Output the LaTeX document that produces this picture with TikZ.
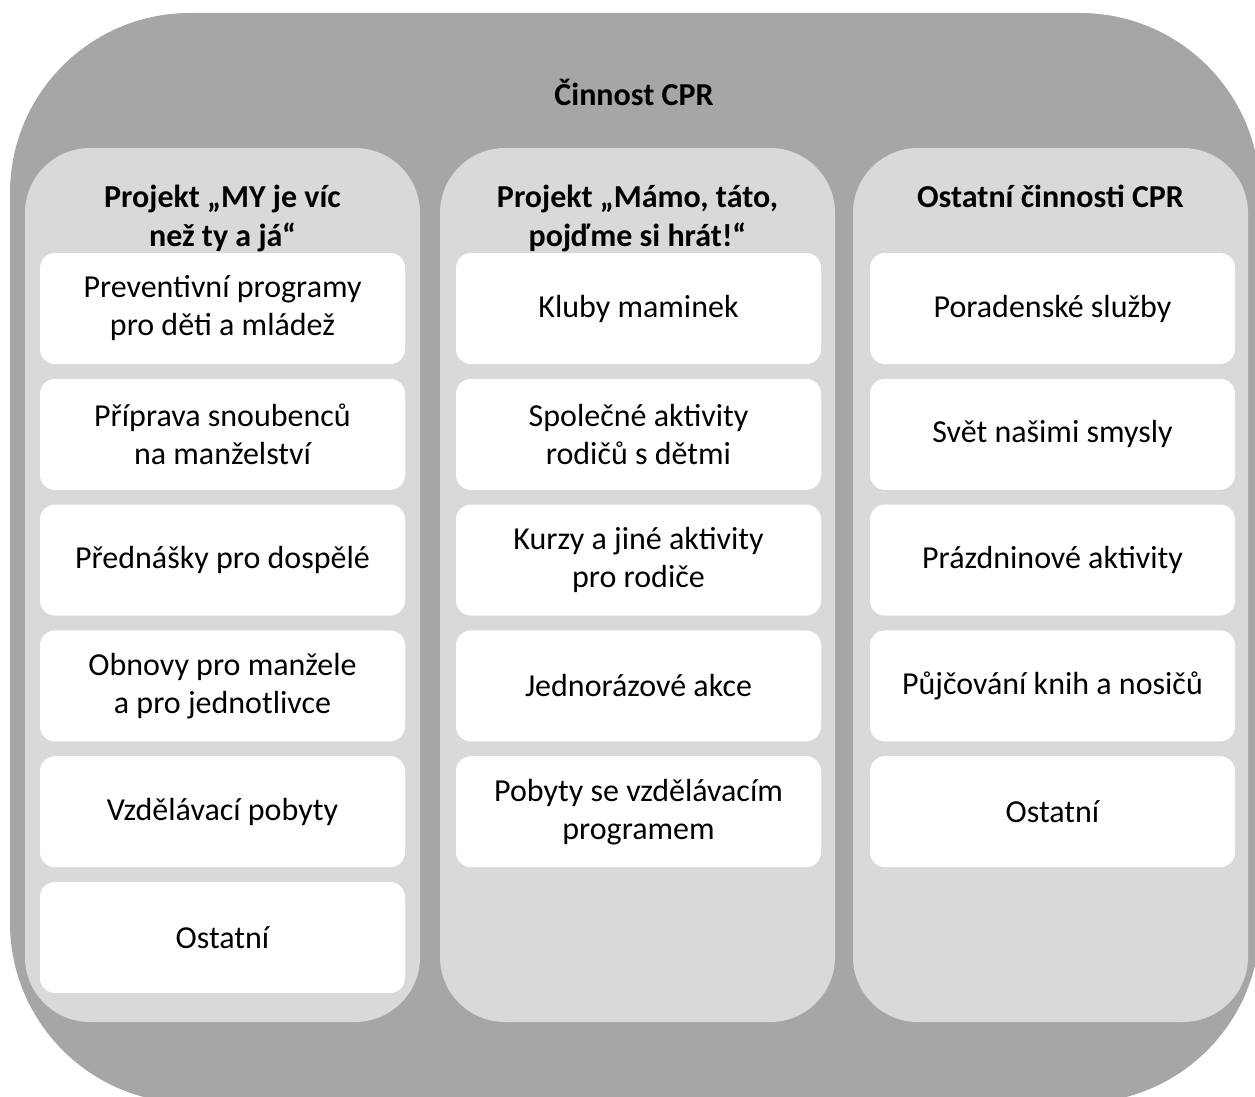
\documentclass[tikz,border=0pt]{standalone}
\usepackage{fontspec}
\setmainfont{Carlito}
\definecolor{outergray}{HTML}{A6A6A6}
\definecolor{panelgray}{HTML}{D9D9D9}
\tikzset{
  panel/.style={fill=panelgray, rounded corners=65pt, minimum width=395pt, minimum height=874pt, inner sep=0pt},
  itembox/.style={fill=white, rounded corners=15pt, minimum width=365pt, minimum height=111pt, inner sep=0pt, align=center, font=\fontsize{32}{38}\selectfont},
  coltitle/.style={anchor=north, inner sep=0pt, align=center, font=\fontsize{32}{39}\selectfont\bfseries},
}
\begin{document}
\begin{tikzpicture}[x=1pt,y=-1pt]
\useasboundingbox (0,0) rectangle (1255,1097);
\clip (0,0) rectangle (1255,1097);
% outer frame
\fill[outergray, rounded corners=180pt] (10,13) rectangle (1260,1103);
\node[anchor=base, font=\fontsize{32}{38}\selectfont\bfseries] (main) at (634,106) {Činnost CPR};

% the three columns
\node[panel] (colA) at (222.5,585) {};
\node[panel] (colB) at (637.5,585) {};
\node[panel] (colC) at (1050.5,585) {};

\node[coltitle] (titleA) at (222.5,185) {Projekt „MY je víc\\ než ty a já“};
\node[coltitle] (titleB) at (637.5,185) {Projekt „Mámo, táto,\\ pojďme si hrát!“};
\node[coltitle] (titleC) at (1050.5,185) {Ostatní činnosti CPR};

% first column
\node[itembox] (a1) at (222.5,308.5) {Preventivní programy\\ pro děti a mládež};
\node[itembox] (a2) at (222.5,434.3) {Příprava snoubenců\\ na manželství};
\node[itembox] (a3) at (222.5,560.1) {Přednášky pro dospělé};
\node[itembox] (a4) at (222.5,685.9) {Obnovy pro manžele\\ a pro jednotlivce};
\node[itembox] (a5) at (222.5,811.7) {Vzdělávací pobyty};
\node[itembox] (a6) at (222.5,937.5) {Ostatní};

% second column
\node[itembox] (b1) at (638.5,308.5) {Kluby maminek};
\node[itembox] (b2) at (638.5,434.3) {Společné aktivity\\ rodičů s dětmi};
\node[itembox] (b3) at (638.5,560.1) {Kurzy a jiné aktivity\\ pro rodiče};
\node[itembox] (b4) at (638.5,685.9) {Jednorázové akce};
\node[itembox] (b5) at (638.5,811.7) {Pobyty se vzdělávacím\\ programem};

% third column
\node[itembox] (c1) at (1052.5,308.5) {Poradenské služby};
\node[itembox] (c2) at (1052.5,434.3) {Svět našimi smysly};
\node[itembox] (c3) at (1052.5,560.1) {Prázdninové aktivity};
\node[itembox] (c4) at (1052.5,685.9) {Půjčování knih a nosičů};
\node[itembox] (c5) at (1052.5,811.7) {Ostatní};

\end{tikzpicture}
\end{document}
